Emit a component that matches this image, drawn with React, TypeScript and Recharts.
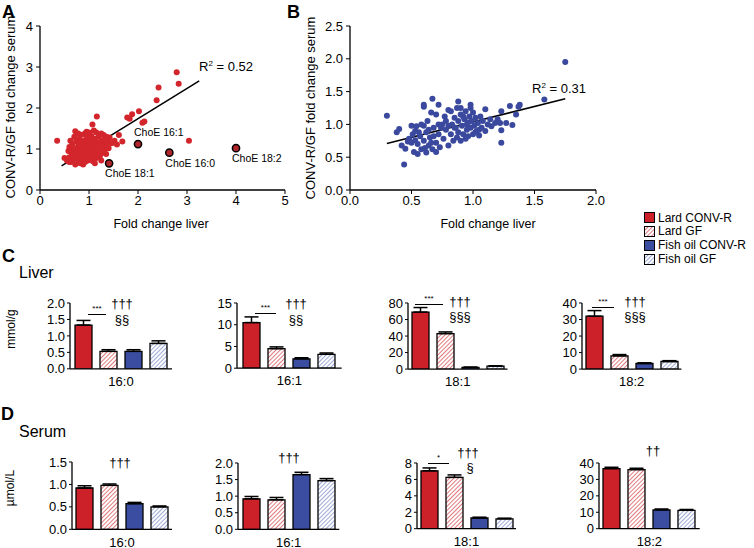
import React from 'react';
import { ScatterChart, Scatter, XAxis, YAxis, ReferenceLine, BarChart, Bar, ErrorBar } from 'recharts';

const RED = '#cc2128';
const RED_DOT = '#d3262c';
const BLUE = '#3b4da0';
const BLUE_DOT = '#3a499e';
const HATCH_BLUE = '#6a7cc0';

// scatter A: fold change liver (x) vs serum (y), lard diet
const pointsA: [number, number][] = [
  [0.35, 1.2], [2.79, 2.87], [2.83, 2.59], [2.42, 2.5], [2.38, 2.19], [2.02, 1.92], [1.88, 1.85],
  [1.78, 1.77], [1.83, 1.74], [2.09, 1.64], [2.13, 1.67], [1.16, 1.79], [3.04, 1.2], [1.61, 1.34],
  [1.68, 1.18], [1.57, 1.11], [1.46, 1.14], [1.52, 1.2], [1.42, 1.28], [1.35, 1.3], [1.3, 1.34],
  [1.07, 1.6], [1.1, 1.45], [0.72, 1.43], [0.78, 1.38], [0.95, 1.42], [1.25, 1.38],
  [0.5, 0.78], [0.55, 0.72], [0.58, 0.95], [0.6, 1.05], [0.6, 0.8], [0.62, 1.2], [0.63, 0.68],
  [0.65, 0.88], [0.66, 1.12], [0.68, 0.75], [0.7, 1.0], [0.7, 1.3], [0.72, 0.62], [0.73, 0.9],
  [0.75, 1.18], [0.76, 0.82], [0.77, 1.05], [0.78, 0.7], [0.8, 0.95], [0.8, 1.25], [0.82, 0.65],
  [0.83, 1.1], [0.85, 0.85], [0.86, 1.35], [0.87, 0.75], [0.88, 1.02], [0.9, 0.92], [0.9, 1.2],
  [0.92, 0.68], [0.93, 1.1], [0.95, 0.8], [0.96, 1.28], [0.97, 0.98], [0.98, 0.72], [1.0, 1.05],
  [1.0, 0.88], [1.02, 1.2], [1.03, 0.78], [1.04, 1.0], [1.05, 1.32], [1.06, 0.92], [1.08, 0.7],
  [1.08, 1.12], [1.1, 0.85], [1.12, 1.02], [1.13, 1.25], [1.15, 0.78], [1.15, 0.95], [1.17, 1.15],
  [1.18, 0.88], [1.2, 1.05], [1.2, 1.3], [1.22, 0.82], [1.24, 1.0], [1.25, 1.18], [1.27, 0.9],
  [1.28, 1.1], [1.3, 1.22], [1.32, 0.98], [1.34, 1.08], [1.36, 1.2], [1.38, 1.28], [1.4, 1.02],
  [1.42, 1.15], [0.85, 1.15], [0.92, 1.38], [1.0, 1.4], [0.68, 0.95], [0.74, 1.22], [0.64, 0.78],
  [0.88, 0.62], [1.12, 0.65], [0.95, 1.15], [1.05, 1.08], [0.78, 1.15], [1.15, 1.4], [0.6, 0.68],
  [0.7, 0.85], [1.35, 0.88], [1.25, 0.72], [0.83, 0.98], [1.01, 0.95], [1.1, 1.22], [0.9, 1.08],
  [0.8, 0.8],
];
const choEPoints = [
  { x: 2.0, y: 1.12, label: 'ChoE 16:1' },
  { x: 2.64, y: 0.91, label: 'ChoE 16:0' },
  { x: 4.0, y: 1.02, label: 'ChoE 18:2' },
  { x: 1.41, y: 0.65, label: 'ChoE 18:1' },
];
const labelsAbove = ['ChoE 16:1'];
const lineA = [{ x: 0.44, y: 0.59 }, { x: 3.25, y: 2.66 }];
const ticksAx = [0, 1, 2, 3, 4, 5];
const ticksAy = [0, 1, 2, 3, 4];

// scatter B: fish oil diet
const pointsB: [number, number][] = [
  [0.3, 1.13], [1.75, 1.95], [1.58, 1.38], [0.44, 0.39], [0.38, 0.88], [0.4, 0.93], [1.23, 0.72],
  [1.32, 0.99], [1.37, 1.27], [1.38, 1.3], [1.3, 1.28], [1.35, 1.15], [1.23, 1.2], [1.27, 1.02],
  [1.23, 0.91], [1.18, 1.02], [1.1, 1.23], [0.67, 1.39], [0.6, 1.27], [0.6, 1.3], [0.72, 1.3],
  [0.88, 1.35], [0.98, 1.3],
  [0.42, 0.68], [0.45, 0.63], [0.48, 0.78], [0.5, 0.98], [0.5, 0.72], [0.52, 0.58], [0.53, 0.9],
  [0.54, 0.97], [0.55, 0.7], [0.55, 0.55], [0.57, 0.82], [0.58, 0.62], [0.6, 0.98], [0.6, 0.75],
  [0.62, 0.57], [0.62, 0.88], [0.63, 1.05], [0.64, 0.68], [0.65, 0.8], [0.66, 1.18], [0.67, 0.62],
  [0.68, 0.95], [0.7, 0.72], [0.7, 1.15], [0.72, 0.85], [0.73, 0.65], [0.75, 1.0], [0.76, 0.78],
  [0.77, 1.12], [0.78, 0.92], [0.8, 0.68], [0.8, 1.22], [0.82, 0.85], [0.83, 1.0], [0.84, 0.75],
  [0.85, 1.1], [0.86, 0.95], [0.87, 1.25], [0.88, 0.88], [0.88, 1.05], [0.9, 0.75], [0.9, 1.15],
  [0.91, 0.98], [0.92, 0.85], [0.93, 1.08], [0.94, 1.2], [0.95, 0.92], [0.95, 1.0], [0.96, 0.82],
  [0.97, 1.12], [0.98, 0.95], [0.99, 1.05], [1.0, 0.85], [1.0, 1.18], [1.01, 0.98], [1.02, 1.1],
  [1.03, 0.9], [1.04, 1.02], [1.05, 0.83], [1.06, 1.12], [1.07, 0.95], [1.08, 1.05], [1.1, 0.9],
  [1.12, 1.0], [1.14, 1.08], [1.15, 0.97], [1.2, 1.08], [1.22, 1.02], [0.56, 0.88], [0.58, 1.0],
  [0.68, 0.82], [0.74, 0.95], [0.85, 0.95], [0.92, 1.12], [0.96, 1.03], [1.02, 0.88], [0.9, 1.25],
  [0.78, 1.05], [0.64, 0.92], [0.7, 0.58], [0.61, 0.64], [0.66, 0.72], [0.82, 1.2], [0.87, 0.8],
  [0.98, 1.25], [1.05, 0.92], [0.94, 0.78], [0.8, 0.98], [0.72, 1.0], [0.53, 0.76], [0.47, 0.74],
  [0.51, 0.85],
];
const lineB = [{ x: 0.3, y: 0.71 }, { x: 1.75, y: 1.39 }];
const ticksBx = [0, 0.5, 1, 1.5, 2];
const ticksBy = [0, 0.5, 1, 1.5, 2, 2.5];

// bar panels
const fattyAcids = ['16:0', '16:1', '18:1', '18:2'];
const groups = ['Lard CONV-R', 'Lard GF', 'Fish oil CONV-R', 'Fish oil GF'];

const liverLardConv = [1.33, 10.5, 69, 32];
const liverLardConvErr = [0.14, 1.3, 5.5, 3.4];
const liverLardGF = [0.53, 4.5, 43, 8];
const liverLardGFErr = [0.05, 0.4, 2, 0.8];
const liverFishConv = [0.53, 2.15, 2, 3.4];
const liverFishConvErr = [0.05, 0.25, 0.4, 0.4];
const liverFishGF = [0.77, 3.2, 3.5, 4.6];
const liverFishGFErr = [0.08, 0.3, 0.5, 0.5];
const liverTicks = [[0, 0.5, 1, 1.5, 2], [0, 5, 10, 15], [0, 20, 40, 60, 80], [0, 10, 20, 30, 40]];

const serumLardConv = [0.92, 0.92, 7.05, 36.6];
const serumLardConvErr = [0.05, 0.07, 0.35, 0.8];
const serumLardGF = [0.98, 0.89, 6.25, 36];
const serumLardGFErr = [0.03, 0.07, 0.3, 0.8];
const serumFishConv = [0.57, 1.65, 1.3, 11.4];
const serumFishConvErr = [0.03, 0.07, 0.1, 0.6];
const serumFishGF = [0.5, 1.47, 1.2, 11.2];
const serumFishGFErr = [0.02, 0.06, 0.08, 0.5];
const serumTicks = [[0, 0.5, 1, 1.5], [0, 0.5, 1, 1.5, 2], [0, 2, 4, 6, 8], [0, 10, 20, 30, 40]];

const liverGeom = [
  { axisX: 70, top: 302.7, bottom: 368.5, right: 172 },
  { axisX: 237.3, top: 303.3, bottom: 368.5, right: 342 },
  { axisX: 407.5, top: 302.7, bottom: 368.8, right: 507 },
  { axisX: 582.3, top: 302.7, bottom: 368.8, right: 681.7 },
];
const serumGeom = [
  { axisX: 71.7, top: 461.7, bottom: 529, right: 171.7 },
  { axisX: 237.7, top: 462.7, bottom: 529, right: 339 },
  { axisX: 416.7, top: 463.3, bottom: 529, right: 515.7 },
  { axisX: 599.3, top: 463.3, bottom: 529, right: 700 },
];

const BAR_FILLS = [RED, 'url(#hatchRed)', BLUE, 'url(#hatchBlue)'];
const BAR_KEYS = ['lc', 'lgf', 'fc', 'fgf'];

const FONT = '"Liberation Sans", Arial, Helvetica, sans-serif';
const axisStyle = { stroke: '#000', strokeWidth: 1.3 };
const tickFont = { fill: '#000', fontSize: 13 };

function T({ x, y, size = 12, bold = false, anchor = 'start', children }: any) {
  const tx = anchor === 'middle' ? '-50%' : anchor === 'end' ? '-100%' : '0';
  return (
    <div
      style={{
        position: 'absolute', left: x, top: y, fontSize: size, fontWeight: bold ? 700 : 400,
        lineHeight: 1, whiteSpace: 'nowrap', transform: `translate(${tx}, -50%)`, color: '#000',
      }}
    >
      {children}
    </div>
  );
}

function VT({ x, y, size = 12, children }: any) {
  return (
    <div
      style={{
        position: 'absolute', left: x, top: y, fontSize: size, lineHeight: 1, whiteSpace: 'nowrap',
        transform: 'translate(-50%, -50%) rotate(-90deg)', color: '#000',
      }}
    >
      {children}
    </div>
  );
}

function Sig({ x1, x2, y, stars }: any) {
  return (
    <>
      <div style={{ position: 'absolute', left: x1, top: y, width: x2 - x1, borderTop: '1px solid #000' }} />
      <div style={{ position: 'absolute', left: (x1 + x2) / 2, top: y - 5, fontSize: 8, lineHeight: 1, transform: 'translate(-50%, -50%)' }}>
        {stars}
      </div>
    </>
  );
}

function BarPanel({ idx, means, errs, geom, ticks, dec }: any) {
  const row: any = { name: fattyAcids[idx] };
  BAR_KEYS.forEach((k, i) => {
    row[k] = means[i][idx];
    row[k + 'E'] = [0, errs[i][idx]];
  });
  const W = 34;
  const plotH = geom.bottom - geom.top;
  const plotW = geom.right - geom.axisX;
  const yMax = ticks[ticks.length - 1];
  return (
    <div style={{ position: 'absolute', left: geom.axisX - W, top: geom.top - 8 }}>
      <BarChart
        width={W + plotW + 2}
        height={8 + plotH + 24}
        data={[row]}
        margin={{ top: 8, right: 2, bottom: 0, left: 0 }}
        barGap={8}
      >
        <XAxis dataKey="name" tickLine={false} axisLine={axisStyle} height={24} tick={tickFont} tickSize={6} />
        <YAxis
          width={W}
          domain={[0, yMax]}
          ticks={ticks}
          interval={0}
          allowDataOverflow
          tickSize={3}
          tickMargin={2}
          tickLine={{ stroke: '#000' }}
          axisLine={axisStyle}
          tick={tickFont}
          tickFormatter={(v: number) => v.toFixed(dec)}
        />
        {BAR_KEYS.map((k, i) => (
          <Bar key={k} dataKey={k} fill={BAR_FILLS[i]} stroke="#000" strokeWidth={1.3} barSize={17} isAnimationActive={false}>
            <ErrorBar dataKey={k + 'E'} width={7} stroke="#000" strokeWidth={1.5} direction="y" />
          </Bar>
        ))}
      </BarChart>
    </div>
  );
}

const dotA = (p: any) => <circle cx={p.cx} cy={p.cy} r={3} fill={RED_DOT} />;
const dotB = (p: any) => <circle cx={p.cx} cy={p.cy} r={3} fill={BLUE_DOT} />;
const choEShape = (p: any) => {
  const above = labelsAbove.includes(p.payload.label);
  return (
    <g>
      <circle cx={p.cx} cy={p.cy} r={3.6} fill="#b0262b" stroke="#000" strokeWidth={1.5} />
      <text x={p.cx - 4} y={above ? p.cy - 8 : p.cy + 14} fontSize={10.5} fill="#000">
        {p.payload.label}
      </text>
    </g>
  );
};

export default function App() {
  const liverMeans = [liverLardConv, liverLardGF, liverFishConv, liverFishGF];
  const liverErrs = [liverLardConvErr, liverLardGFErr, liverFishConvErr, liverFishGFErr];
  const serumMeans = [serumLardConv, serumLardGF, serumFishConv, serumFishGF];
  const serumErrs = [serumLardConvErr, serumLardGFErr, serumFishConvErr, serumFishGFErr];

  return (
    <div style={{ position: 'absolute', left: 0, top: 0, width: 754, height: 548, background: '#fff', fontFamily: FONT, overflow: 'hidden' }}>
      <svg width={0} height={0} style={{ position: 'absolute' }}>
        <defs>
          <pattern id="hatchRed" patternUnits="userSpaceOnUse" width="3" height="3" patternTransform="rotate(45)">
            <rect width="3" height="3" fill="#fff" />
            <line x1="0" y1="0" x2="0" y2="3" stroke={RED} strokeWidth="1.2" />
          </pattern>
          <pattern id="hatchBlue" patternUnits="userSpaceOnUse" width="3" height="3" patternTransform="rotate(45)">
            <rect width="3" height="3" fill="#fff" />
            <line x1="0" y1="0" x2="0" y2="3" stroke={HATCH_BLUE} strokeWidth="1.3" />
          </pattern>
        </defs>
      </svg>

      {/* Panel A */}
      <div style={{ position: 'absolute', left: 0, top: 0 }}>
        <ScatterChart width={300} height={222} margin={{ top: 26, right: 15, bottom: 12, left: 0 }}>
          <XAxis type="number" dataKey="x" domain={[0, 5]} ticks={ticksAx} interval={0} height={20} tickSize={4} tickMargin={2}
            axisLine={axisStyle} tickLine={{ stroke: '#000' }} tick={tickFont} />
          <YAxis type="number" dataKey="y" domain={[0, 4]} ticks={ticksAy} interval={0} width={40} tickSize={4} tickMargin={3}
            axisLine={axisStyle} tickLine={{ stroke: '#000' }} tick={tickFont} />
          <Scatter data={pointsA.map(([x, y]) => ({ x, y }))} shape={dotA} isAnimationActive={false} />
          <Scatter data={choEPoints} shape={choEShape} isAnimationActive={false} />
          <ReferenceLine segment={lineA} stroke="#000" strokeWidth={1.5} ifOverflow="visible" />
        </ScatterChart>
      </div>
      <T x={2} y={11.5} size={18} bold>A</T>
      <VT x={10} y={107} size={13}>CONV-R/GF fold change serum</VT>
      <T x={161} y={224} size={12.5} anchor="middle">Fold change liver</T>
      <T x={199} y={66} size={13}>R<sup style={{ fontSize: 8, verticalAlign: 'top' }}>2</sup> = 0.52</T>

      {/* Panel B */}
      <div style={{ position: 'absolute', left: 310, top: 0 }}>
        <ScatterChart width={300} height={222} margin={{ top: 26, right: 14, bottom: 12, left: 0 }}>
          <XAxis type="number" dataKey="x" domain={[0, 2]} ticks={ticksBx} interval={0} height={20} tickSize={4} tickMargin={2}
            axisLine={axisStyle} tickLine={{ stroke: '#000' }} tick={tickFont} tickFormatter={(v: number) => v.toFixed(1)} />
          <YAxis type="number" dataKey="y" domain={[0, 2.5]} ticks={ticksBy} interval={0} width={40} tickSize={4} tickMargin={3}
            axisLine={axisStyle} tickLine={{ stroke: '#000' }} tick={tickFont} tickFormatter={(v: number) => v.toFixed(1)} />
          <Scatter data={pointsB.map(([x, y]) => ({ x, y }))} shape={dotB} isAnimationActive={false} />
          <ReferenceLine segment={lineB} stroke="#000" strokeWidth={1.5} ifOverflow="visible" />
        </ScatterChart>
      </div>
      <T x={287} y={11.5} size={18} bold>B</T>
      <VT x={310} y={108} size={13}>CONV-R/GF fold change serum</VT>
      <T x={488} y={224} size={12.5} anchor="middle">Fold change liver</T>
      <T x={532} y={87.5} size={13}>R<sup style={{ fontSize: 8, verticalAlign: 'top' }}>2</sup> = 0.31</T>

      {/* Legend */}
      {groups.map((g, i) => (
        <div key={g} style={{ position: 'absolute', left: 644, top: 217.5 + i * 13.9, transform: 'translateY(-50%)', display: 'flex', alignItems: 'center' }}>
          <svg width={11} height={11} style={{ display: 'block' }}>
            <rect x={0.5} y={0.5} width={10} height={10} fill={BAR_FILLS[i]} stroke="#000" strokeWidth={1} />
          </svg>
          <span style={{ marginLeft: 3, fontSize: 12, lineHeight: 1 }}>{g}</span>
        </div>
      ))}

      {/* Panel C: Liver */}
      <T x={2} y={256} size={18} bold>C</T>
      <T x={19} y={273} size={16}>Liver</T>
      <VT x={11} y={329} size={12}>mmol/g</VT>
      {liverGeom.map((g, i) => (
        <BarPanel key={'l' + i} idx={i} means={liverMeans} errs={liverErrs} geom={g} ticks={liverTicks[i]} dec={i === 0 ? 1 : 0} />
      ))}
      <Sig x1={88} x2={106} y={314} stars="***" />
      <T x={122} y={303} size={13} anchor="middle">†††</T>
      <T x={122} y={318.5} size={13} anchor="middle">§§</T>
      <Sig x1={255} x2={276} y={313} stars="***" />
      <T x={296} y={303} size={13} anchor="middle">†††</T>
      <T x={296} y={318.5} size={13} anchor="middle">§§</T>
      <Sig x1={415} x2={443} y={304} stars="***" />
      <T x={460} y={301} size={13} anchor="middle">†††</T>
      <T x={460} y={316} size={13} anchor="middle">§§§</T>
      <Sig x1={592} x2={614} y={306.5} stars="***" />
      <T x={635} y={301} size={13} anchor="middle">†††</T>
      <T x={635} y={316} size={13} anchor="middle">§§§</T>

      {/* Panel D: Serum */}
      <T x={1} y={414} size={18} bold>D</T>
      <T x={19} y={432} size={16}>Serum</T>
      <VT x={10} y={488} size={12}>µmol/L</VT>
      {serumGeom.map((g, i) => (
        <BarPanel key={'s' + i} idx={i} means={serumMeans} errs={serumErrs} geom={g} ticks={serumTicks[i]} dec={i < 2 ? 1 : 0} />
      ))}
      <T x={120} y={462} size={13} anchor="middle">†††</T>
      <T x={289} y={457} size={13} anchor="middle">†††</T>
      <Sig x1={428} x2={449} y={462.5} stars="*" />
      <T x={468} y={452} size={13} anchor="middle">†††</T>
      <T x={470} y={467} size={13} anchor="middle">§</T>
      <T x={653} y={450} size={13} anchor="middle">††</T>
    </div>
  );
}
